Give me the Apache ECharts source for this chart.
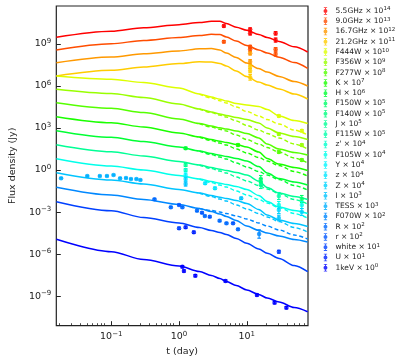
<!DOCTYPE html>
<html>
<head>
<meta charset="utf-8">
<script src="https://cdn.jsdelivr.net/npm/echarts@6/dist/echarts.min.js"></script>
<style>
  html, body { margin: 0; padding: 0; background: #fff; }
  #chart { width: 407px; height: 363px; }
</style>
</head>
<body>
<div id="chart"></div>
<script>
// bands, scaling exponents (x 10^n) and colours, top to bottom as in the legend
const bandNames = ['5.5GHz', '9.0GHz', '16.7GHz', '21.2GHz', 'F444W', 'F356W', 'F277W', 'K', 'H',
  'F150W', 'F140W', 'J', 'F115W', "z'", 'F105W', 'Y', 'z', 'Z', 'I', 'TESS', 'F070W', 'R', 'r',
  'white', 'U', '1keV']
const bandExps = [14, 13, 12, 11, 10, 9, 8, 7, 6, 5, 5, 5, 5, 4, 4, 4, 4, 4, 3, 3, 2, 2, 2, 1, 1, 0]
const bandColors = ['#ff0000', '#ff4d00', '#ff9900', '#ffcc00', '#ddff00', '#99ff00', '#55ff00',
  '#1aff00', '#00ff33', '#00ff6a', '#00ff80', '#00ff95', '#00ffaa', '#00ffcc', '#00ffea', '#00f6ff',
  '#00e6ff', '#00d4ff', '#00c4ff', '#00b0ff', '#0088ff', '#006aff', '#0055ff', '#0040ff', '#0022ff',
  '#0000ff']

// model curves: time grid (days) and log10 of scaled flux density (Jy)
const tGrid = [0.0155, 0.1, 0.3, 1, 2, 3, 4, 5, 7, 10, 15, 20, 30, 50, 79]
const tLate = [2, 3, 4, 5, 7, 10, 15, 20, 30, 50, 79]

const model55GHz = [9.465, 9.893, 10.150, 10.371, 10.521, 10.606, 10.613, 10.449, 10.185, 9.964, 9.665, 9.458, 9.173, 8.787, 8.417]
const model90GHz = [8.559, 9.009, 9.237, 9.451, 9.593, 9.679, 9.665, 9.486, 9.201, 8.880, 8.559, 8.345, 8.046, 7.668, 7.254]
const model167GHz = [7.653, 8.060, 8.288, 8.488, 8.652, 8.666, 8.559, 8.345, 8.024, 7.632, 7.240, 6.990, 6.669, 6.312, 5.991]
const model212GHz = [6.705, 7.111, 7.347, 7.596, 7.718, 7.703, 7.596, 7.418, 7.061, 6.669, 6.277, 6.063, 5.777, 5.421, 5.064]
const modelF444W = [6.705, 6.476, 6.241, 5.849, 5.421, 5.207, 5.050, 4.922, 4.743, 4.636, 4.529, 4.315, 3.852, 3.531, 3.317]
const modelF356W = [5.756, 5.456, 5.171, 4.708, 4.351, 4.137, 3.994, 3.887, 3.745, 3.602, 3.352, 2.996, 2.639, 2.389, 2.175]
const modelF277W = [4.800, 4.401, 4.101, 3.638, 3.317, 3.138, 3.010, 2.924, 2.782, 2.603, 2.282, 1.854, 1.498, 1.248, 1.070]
const modelK = [3.802, 3.374, 3.067, 2.639, 2.354, 2.175, 2.054, 1.961, 1.819, 1.641, 1.284, 0.820, 0.428, 0.178, -0.036]
const modelH = [2.803, 2.332, 2.033, 1.641, 1.355, 1.177, 1.056, 0.963, 0.820, 0.642, 0.250, -0.214, -0.606, -0.856, -1.070]
const modelNir5 = [1.805, 1.305, 0.999, 0.606, 0.357, 0.178, 0.057, -0.036, -0.178, -0.357, -0.785, -1.248, -1.641, -1.890, -2.104]
const modelOpt4 = [0.806, 0.285, 0, -0.392, -0.642, -0.820, -0.942, -1.034, -1.177, -1.391, -1.819, -2.247, -2.639, -2.889, -3.103]
const modelOpt3 = [-0.193, -0.713, -0.999, -1.391, -1.641, -1.819, -1.940, -2.033, -2.175, -2.389, -2.817, -3.210, -3.566, -3.816, -4.030]
const modelOpt2 = [-1.234, -1.783, -2.104, -2.461, -2.746, -2.960, -3.138, -3.317, -3.602, -3.994, -4.315, -4.494, -4.708, -4.957, -5.136]
const modelUv1 = [-2.261, -2.903, -3.388, -3.780, -4.101, -4.315, -4.458, -4.601, -4.886, -5.228, -5.635, -5.942, -6.312, -6.812, -7.254]
const model1keV = [-4.943, -5.827, -6.384, -6.847, -7.240, -7.525, -7.739, -7.953, -8.238, -8.559, -8.880, -9.130, -9.415, -9.807, -10.107]

// dashed model (on tLate)
const dashF444W = [5.421, 5.136, 4.943, 4.779, 4.494, 4.173, 3.852, 3.602, 3.281, 2.853, 2.496]
const dashF356W = [4.351, 4.101, 3.923, 3.780, 3.495, 3.174, 2.853, 2.603, 2.282, 1.854, 1.498]
const dashF277W = [3.317, 3.067, 2.903, 2.782, 2.496, 2.175, 1.854, 1.605, 1.284, 0.856, 0.499]
const dashK = [2.354, 2.104, 1.926, 1.783, 1.498, 1.213, 0.892, 0.642, 0.321, -0.107, -0.428]
const dashH = [1.355, 1.106, 0.927, 0.785, 0.499, 0.214, -0.107, -0.357, -0.678, -1.106, -1.427]
const dashNir5 = [0.357, 0.107, -0.071, -0.214, -0.499, -0.785, -1.106, -1.355, -1.676, -2.104, -2.425]
const dashOpt4 = [-0.642, -0.892, -1.070, -1.213, -1.498, -1.783, -2.104, -2.354, -2.675, -3.103, -3.424]
const dashOpt3 = [-1.641, -1.890, -2.068, -2.211, -2.496, -2.782, -3.103, -3.352, -3.673, -4.101, -4.422]
const dashOpt2 = [-2.746, -2.889, -2.996, -3.103, -3.281, -3.495, -3.780, -3.994, -4.280, -4.636, -4.922]

// observations: [t (day), log10 scaled flux, error (dex)]
const obs55GHz = [[4.58, 10.271, 0.08], [11.2, 10.036, 0.1], [11.2, 9.750, 0.12], [26.6, 9.750, 0.12], [26.6, 9.272, 0.15]]
const obs90GHz = [[4.58, 9.151, 0.08], [11.2, 8.795, 0.1], [11.2, 8.609, 0.12], [26.6, 8.609, 0.12], [26.6, 8.274, 0.15]]
const obs167GHz = [[11.2, 8.324, 0.12], [11.2, 7.725, 0.15]]
const obs212GHz = [[11.2, 7.368, 0.12], [11.2, 7.083, 0.15], [11.2, 6.612, 0.2]]
const obsF444W = [[29.7, 3.852, 0.08], [64.8, 2.803, 0.08]]
const obsF356W = [[29.7, 2.568, 0.08], [64.8, 1.783, 0.08]]
const obsF277W = [[29.7, 1.284, 0.08], [64.8, 0.713, 0.08]]
const obsK = [[7.41, 1.783, 0.08]]
const obsH = [[1.25, 1.548, 0.08]]
const obsF150W = [[16.1, -0.642, 0.25], [64.8, -2.068, 0.25]]
const obsF140W = [[16.1, -0.856, 0.25]]
const obsJ = [[1.25, 0.357, 0.1], [16.1, -1.070, 0.25]]
const obsF115W = [[29.7, -1.854, 0.25]]
const obsZp = [[1.25, 0, 0.1]]
const obsF105W = [[29.7, -2.496, 0.25], [64.8, -2.496, 0.25]]
const obsY = [[1.25, -0.357, 0.15]]
const obsz = [[2.43, -0.949, 0.08], [3.39, -1.305, 0.08]]
const obsZ = [[1.25, -0.642, 0.15], [29.7, -2.853, 0.25], [64.8, -2.996, 0.25]]
const obsI = [[1.25, -0.999, 0.15], [8.27, -2.019, 0.08], [29.7, -3.424, 0.2]]
const obsTESS = [[0.0182, -0.592, 0.05], [0.0443, -0.428, 0.05], [0.0677, -0.428, 0.05], [0.0863, -0.428, 0.05],
  [0.108, -0.357, 0.05], [0.135, -0.592, 0.05], [0.165, -0.571, 0.05], [0.195, -0.642, 0.05],
  [0.235, -0.642, 0.05], [0.269, -0.713, 0.05]]
const obsF070W = [[15.2, -4.565, 0.3]]
const obsR = [[0.434, -2.090, 0.06], [0.756, -2.660, 0.06], [1.12, -2.660, 0.06], [1.84, -2.903, 0.06],
  [2.40, -3.281, 0.06], [3.97, -3.616, 0.06], [5.01, -3.802, 0.06], [7.41, -4.230, 0.06]]
const obsr = [[1.0, -2.496, 0.06], [2.18, -3.046, 0.06], [2.84, -3.331, 0.06], [6.27, -3.802, 0.06]]
const obsWhite = [[1.0, -4.158, 0.08], [29.7, -5.827, 0.1]]
const obsU = [[1.25, -4.087, 0.08], [1.65, -4.444, 0.08]]
const obs1keV = [[1.12, -6.897, 0.08], [1.18, -7.204, 0.08], [1.74, -7.539, 0.08], [4.85, -7.917, 0.08],
  [14.1, -8.916, 0.08], [25.7, -9.465, 0.08], [38.4, -9.822, 0.08]]

// axis ticks (log10 units)
const xMajorTicks = [-1, 0, 1]
const yMajorTicks = [-9, -6, -3, 0, 3, 6, 9]

const obsByBand = [obs55GHz, obs90GHz, obs167GHz, obs212GHz, obsF444W, obsF356W, obsF277W, obsK, obsH,
  obsF150W, obsF140W, obsJ, obsF115W, obsZp, obsF105W, obsY, obsz, obsZ, obsI, obsTESS, obsF070W, obsR,
  obsr, obsWhite, obsU, obs1keV]

const modelCurves = [
  { band: '5.5GHz', solid: model55GHz },
  { band: '9.0GHz', solid: model90GHz },
  { band: '16.7GHz', solid: model167GHz },
  { band: '21.2GHz', solid: model212GHz },
  { band: 'F444W', solid: modelF444W, dashed: dashF444W },
  { band: 'F356W', solid: modelF356W, dashed: dashF356W },
  { band: 'F277W', solid: modelF277W, dashed: dashF277W },
  { band: 'K', solid: modelK, dashed: dashK },
  { band: 'H', solid: modelH, dashed: dashH },
  { band: 'J', solid: modelNir5, dashed: dashNir5 },
  { band: 'F105W', solid: modelOpt4, dashed: dashOpt4 },
  { band: 'I', solid: modelOpt3, dashed: dashOpt3 },
  { band: 'F070W', solid: modelOpt2, dashed: dashOpt2 },
  { band: 'white', solid: modelUv1 },
  { band: '1keV', solid: model1keV },
]

const FONT = 'DejaVu Sans'
const TEXT = '#222222'
const lg = Math.log10
const colorOf = (band) => bandColors[bandNames.indexOf(band)]
const sup = (v) => (v < 0 ? '\u2212' + (-v) : String(v))

const xMinorTicks = []
for (let d = -2; d <= 1; d += 1) {
  for (let k = 2; k <= 9; k += 1) xMinorTicks.push(lg(k) + d)
}

const axisRange = {
  x: [-1.811, 1.903],
  y: [-11.106, 11.70],
}
const gridBox = { left: 51.7, top: 6, right: 99, bottom: 37.3 }

const tickRich = {
  b: { fontSize: 9.5, lineHeight: 12, color: TEXT, fontFamily: FONT },
  s: { fontSize: 7, lineHeight: 7, verticalAlign: 'top', color: TEXT, fontFamily: FONT },
}

const series = []

modelCurves.forEach((c) => {
  const color = colorOf(c.band)
  series.push({
    type: 'line',
    data: tGrid.map((t, i) => [lg(t), c.solid[i]]),
    showSymbol: false,
    smooth: 0.3,
    smoothMonotone: 'x',
    silent: true,
    z: 2,
    lineStyle: { color, width: 1.5 },
  })
  if (c.dashed) {
    series.push({
      type: 'line',
      data: tLate.map((t, i) => [lg(t), c.dashed[i]]),
      showSymbol: false,
      smooth: 0.3,
      smoothMonotone: 'x',
      silent: true,
      z: 2,
      lineStyle: { color, width: 1.4, type: [4, 2.5] },
    })
  }
})

const errData = []
bandNames.forEach((name, i) => {
  obsByBand[i].forEach((p) => errData.push([lg(p[0]), p[1], p[2], i]))
  series.push({
    name,
    type: 'scatter',
    data: obsByBand[i].map((p) => [lg(p[0]), p[1]]),
    symbolSize: 4.5,
    silent: true,
    z: 4,
    itemStyle: { color: bandColors[i] },
  })
})

series.push({
  type: 'custom',
  silent: true,
  z: 3,
  data: errData,
  renderItem: (params, api) => {
    const x = api.value(0)
    const y = api.value(1)
    const e = api.value(2)
    const color = bandColors[api.value(3)]
    const top = api.coord([x, y + e])
    const bot = api.coord([x, y - e])
    const style = { stroke: color, lineWidth: 1.1 }
    return {
      type: 'group',
      children: [
        { type: 'line', shape: { x1: top[0], y1: top[1], x2: bot[0], y2: bot[1] }, style },
        { type: 'line', shape: { x1: top[0] - 1.8, y1: top[1], x2: top[0] + 1.8, y2: top[1] }, style },
        { type: 'line', shape: { x1: bot[0] - 1.8, y1: bot[1], x2: bot[0] + 1.8, y2: bot[1] }, style },
      ],
    }
  },
})

const option = {
  animation: false,
  backgroundColor: '#ffffff',
  textStyle: { fontFamily: FONT },
  grid: [
    { ...gridBox, show: true, borderColor: TEXT, borderWidth: 1.2, backgroundColor: 'transparent' },
    { ...gridBox, show: false },
  ],
  legend: {
    data: bandNames,
    orient: 'vertical',
    left: 323.5,
    top: 6,
    padding: 0,
    itemWidth: 10,
    itemHeight: 7.5,
    itemGap: 1.27,
    icon: 'path://M4,0L6,0L6,16L4,16Z M1.5,0L8.5,0L8.5,1.8L1.5,1.8Z M1.5,14.2L8.5,14.2L8.5,16L1.5,16Z M0.8,8A4.2,4.2 0 1,1 9.2,8A4.2,4.2 0 1,1 0.8,8Z',
    selectedMode: false,
    formatter: (name) => `{n|${name} \u00d7 10}{s|${bandExps[bandNames.indexOf(name)]}}`,
    textStyle: {
      color: TEXT,
      fontFamily: FONT,
      fontSize: 7.5,
      rich: {
        n: { fontSize: 7.5, lineHeight: 10, color: TEXT, fontFamily: FONT },
        s: { fontSize: 5.5, lineHeight: 5.5, verticalAlign: 'top', color: TEXT, fontFamily: FONT },
      },
    },
  },
  xAxis: [
    {
      type: 'value',
      gridIndex: 0,
      min: axisRange.x[0],
      max: axisRange.x[1],
      name: 't (day)',
      nameLocation: 'middle',
      nameGap: 20,
      nameTextStyle: { fontSize: 9.5, color: TEXT, fontFamily: FONT },
      axisLine: { show: false, onZero: false },
      splitLine: { show: false },
      axisTick: { show: true, inside: true, length: 4.5, customValues: xMajorTicks, lineStyle: { color: TEXT, width: 1 } },
      axisLabel: { customValues: xMajorTicks, margin: 5, formatter: (v) => `{b|10}{s|${sup(v)}}`, rich: tickRich },
    },
    {
      type: 'value',
      gridIndex: 1,
      min: axisRange.x[0],
      max: axisRange.x[1],
      axisLine: { show: false, onZero: false },
      splitLine: { show: false },
      axisLabel: { show: false },
      axisTick: { show: true, inside: true, length: 2.5, customValues: xMinorTicks, lineStyle: { color: TEXT, width: 0.8 } },
    },
  ],
  yAxis: [
    {
      type: 'value',
      gridIndex: 0,
      min: axisRange.y[0],
      max: axisRange.y[1],
      name: 'Flux density (Jy)',
      nameLocation: 'middle',
      nameGap: 34,
      nameRotate: 90,
      nameTextStyle: { fontSize: 9.5, color: TEXT, fontFamily: FONT },
      axisLine: { show: false, onZero: false },
      splitLine: { show: false },
      axisTick: { show: true, inside: true, length: 4.5, customValues: yMajorTicks, lineStyle: { color: TEXT, width: 1 } },
      axisLabel: { customValues: yMajorTicks, margin: 5, formatter: (v) => `{b|10}{s|${sup(v)}}`, rich: tickRich },
    },
    {
      type: 'value',
      gridIndex: 1,
      min: axisRange.y[0],
      max: axisRange.y[1],
      show: false,
      axisLine: { onZero: false },
    },
  ],
  series,
}

const chart = echarts.init(document.getElementById('chart'), null, { renderer: 'canvas' })
chart.setOption(option)
</script>
</body>
</html>
